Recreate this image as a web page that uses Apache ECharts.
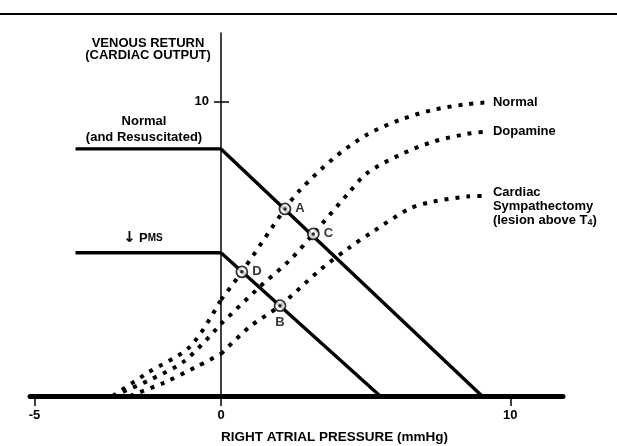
<!DOCTYPE html>
<html>
<head>
<meta charset="utf-8">
<script src="https://cdn.jsdelivr.net/npm/echarts@6/dist/echarts.min.js"></script>
<style>
  html, body { margin: 0; padding: 0; background: #fff; }
  #chart { width: 617px; height: 446px; }
</style>
</head>
<body>
<div id="chart"></div>
<script>
// venous return lines [pressure, flow]
const normalVR = [[-3.9, 8.4], [0, 8.4], [9.02, 0]];
const lowPmsVR = [[-3.9, 4.87], [0, 4.87], [5.5, 0]];

// cardiac output curves
const normalCO = [[-2.9, 0], [-1.99, 0.77], [-0.83, 1.68], [0, 3.27], [0.72, 4.22], [2.21, 6.36],
  [2.73, 7.0], [3.89, 8.08], [5.04, 8.88], [6.19, 9.39], [7.35, 9.73], [8.5, 9.92], [9.19, 9.98]];
const dopamineCO = [[-2.9, 0], [-1.9, 0.55], [-0.97, 1.2], [0, 2.45], [1.35, 3.72], [2.39, 4.63],
  [3.19, 5.51], [4.4, 6.89], [5.04, 7.57], [6.19, 8.2], [7.35, 8.65], [8.5, 8.91], [9.19, 8.99]];
const sympathCO = [[-2.44, 0], [-1.55, 0.44], [-0.65, 1.0], [0, 1.43], [1.0, 2.36], [2.04, 3.07],
  [3.43, 4.29], [4.4, 5.02], [5.16, 5.53], [6.54, 6.38], [7.35, 6.61], [8.5, 6.78], [9.19, 6.8]];

// equilibrium points
const pointNames = ['A', 'C', 'D', 'B'];
const pointValues = [[2.21, 6.36], [3.19, 5.51], [0.72, 4.22], [2.04, 3.07]];
const pointLabelPos = ['right', 'right', 'right', 'bottom'];

const xTicksLeft = [-5];
const xTicksRight = [0, 10];
const yTicks = [10];

const FONT = '"Liberation Sans", Arial, sans-serif';
const chart = echarts.init(document.getElementById('chart'));

// left grid shows pressure <= 0, right grid pressure >= 0 (different scales)
function part(data, grid) {
  return data.filter(d => grid === 0 ? d[0] <= 0 : d[0] >= 0);
}

function solid(name, data, grid) {
  return {
    name: name, type: 'line', xAxisIndex: grid, yAxisIndex: grid === 0 ? 0 : 1,
    data: part(data, grid), symbol: 'none', silent: true,
    lineStyle: { color: '#000', width: 3.4 }
  };
}
function dotted(name, data, grid, label) {
  const s = {
    name: name, type: 'line', xAxisIndex: grid, yAxisIndex: grid === 0 ? 0 : 1,
    data: part(data, grid), symbol: 'none', silent: true,
    smooth: 0.3,
    lineStyle: { color: '#000', width: 4, type: [4, 7], cap: 'butt' }
  };
  if (label) {
    s.endLabel = {
      show: true, distance: 6, color: '#000',
      fontFamily: FONT, fontWeight: 'bold', fontSize: 13,
      formatter: label.text, lineHeight: 14, offset: label.offset || [0, 0],
      rich: label.rich
    };
  }
  return s;
}

const axisBase = {
  type: 'value', splitLine: { show: false }, axisLabel: { show: false }
};
const tickLabel = { show: true, color: '#000', fontFamily: FONT, fontWeight: 'bold', fontSize: 13 };

chart.setOption({
  animation: false,
  grid: [
    { left: 30, right: 396, top: 33, bottom: 50 },
    { left: 221, right: 54, top: 33, bottom: 50 }
  ],
  xAxis: [
    Object.assign({}, axisBase, {
      gridIndex: 0, min: -5.12, max: 0,
      axisLine: { lineStyle: { color: '#000', width: 5 } },
      axisTick: { show: true, length: 10, customValues: xTicksLeft, lineStyle: { color: '#000', width: 1.5 } },
      axisLabel: Object.assign({ customValues: xTicksLeft, margin: 13 }, tickLabel)
    }),
    Object.assign({}, axisBase, {
      gridIndex: 1, min: 0, max: 11.82,
      axisLine: { lineStyle: { color: '#000', width: 5 } },
      axisTick: { show: true, length: 10, customValues: xTicksRight, lineStyle: { color: '#000', width: 1.5 } },
      axisLabel: Object.assign({ customValues: xTicksRight, margin: 13 }, tickLabel)
    })
  ],
  yAxis: [
    Object.assign({}, axisBase, {
      gridIndex: 0, min: 0, max: 12.34,
      axisLine: { show: false }, axisTick: { show: false }
    }),
    Object.assign({}, axisBase, {
      gridIndex: 1, min: 0, max: 12.34, position: 'left',
      axisLine: { show: true, lineStyle: { color: '#000', width: 1.5 } },
      axisTick: { show: true, length: 7, customValues: yTicks, lineStyle: { color: '#000', width: 1.5 } },
      axisLabel: Object.assign({ customValues: yTicks, margin: 12 }, tickLabel)
    }),
    Object.assign({}, axisBase, {
      gridIndex: 1, min: 0, max: 12.34, position: 'left', offset: 0,
      axisLine: { show: false },
      axisTick: { show: true, inside: true, length: 8, customValues: yTicks, lineStyle: { color: '#000', width: 1.5 } }
    })
  ],
  graphic: [
    { type: 'line', shape: { x1: 0, y1: 14, x2: 617, y2: 14 }, style: { stroke: '#000', lineWidth: 2 } },
    { type: 'text', x: 148, y: 43, style: { text: 'VENOUS RETURN', font: 'bold 13px ' + FONT, align: 'center', verticalAlign: 'middle', fill: '#000' } },
    { type: 'text', x: 148, y: 55, style: { text: '(CARDIAC OUTPUT)', font: 'bold 13px ' + FONT, align: 'center', verticalAlign: 'middle', fill: '#000' } },
    { type: 'text', x: 144, y: 121, style: { text: 'Normal', font: 'bold 13px ' + FONT, align: 'center', verticalAlign: 'middle', fill: '#000' } },
    { type: 'text', x: 144, y: 137, style: { text: '(and Resuscitated)', font: 'bold 13px ' + FONT, align: 'center', verticalAlign: 'middle', fill: '#000' } },
    { type: 'text', x: 143, y: 238, style: {
      text: '{a|↓} {p|P}{ms|MS}', align: 'center', verticalAlign: 'middle', fill: '#000',
      rich: {
        a: { font: 'bold 15px "DejaVu Sans", sans-serif', fill: '#000' },
        p: { font: 'bold 13px ' + FONT, fill: '#000' },
        ms: { font: 'bold 10px ' + FONT, fill: '#000' }
      }
    } },
    { type: 'text', x: 221, y: 437, style: { text: 'RIGHT ATRIAL PRESSURE (mmHg)', font: 'bold 13.5px ' + FONT, align: 'left', verticalAlign: 'middle', fill: '#000' } }
  ],
  series: [
    solid('Normal VR', normalVR, 0),
    solid('Normal VR', normalVR, 1),
    solid('Low Pms VR', lowPmsVR, 0),
    solid('Low Pms VR', lowPmsVR, 1),
    dotted('Normal', normalCO, 0),
    dotted('Normal', normalCO, 1, { text: 'Normal' }),
    dotted('Dopamine', dopamineCO, 0),
    dotted('Dopamine', dopamineCO, 1, { text: 'Dopamine' }),
    dotted('Cardiac Sympathectomy', sympathCO, 0),
    dotted('Cardiac Sympathectomy', sympathCO, 1, {
      text: 'Cardiac\nSympathectomy\n(lesion above T{sub|4})', offset: [0, 10],
      rich: { sub: { fontFamily: FONT, fontWeight: 'bold', fontSize: 9, padding: [5, 0, 0, 0] } }
    }),
    {
      type: 'scatter', xAxisIndex: 1, yAxisIndex: 1, symbol: 'circle', symbolSize: 11, z: 5, silent: true,
      itemStyle: { color: '#fff', borderColor: '#000', borderWidth: 1.8 },
      data: pointValues.map((v, i) => ({
        name: pointNames[i], value: v,
        label: { show: true, position: pointLabelPos[i], distance: 4, formatter: '{b}', color: '#000', fontFamily: FONT, fontWeight: 'bold', fontSize: 13 }
      }))
    },
    {
      type: 'scatter', xAxisIndex: 1, yAxisIndex: 1, symbol: 'circle', symbolSize: 3.5, z: 6, silent: true,
      itemStyle: { color: '#000' }, data: pointValues
    }
  ]
});
</script>
</body>
</html>
